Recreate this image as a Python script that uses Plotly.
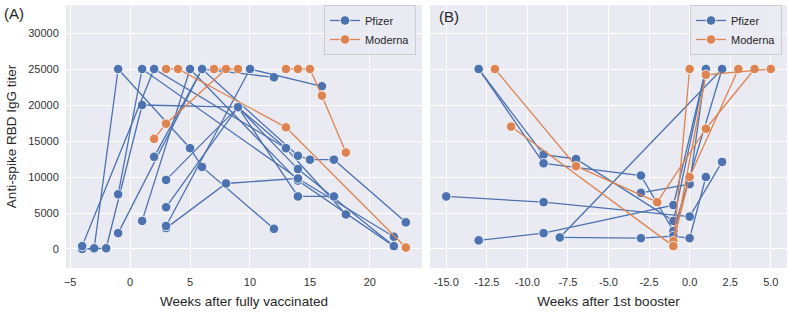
import plotly.graph_objects as go

# ---------------- data (weeks, titer) per subject ----------------
# Panel A: weeks after fully vaccinated
a_pfizer_weeks = [
    [-3, -1, 5, 6, 12],
    [-4, -2, 1, 9, 14, 22],
    [-4, 2, 13, 18],
    [-1, 1, 14, 22],
    [-1, 6, 14, 15, 17, 23],
    [1, 5, 14, 22],
    [3, 9, 14, 17],
    [3, 8, 14],
    [3, 9, 13],
    [2, 6, 12],
    [3, 10, 16],
]
a_pfizer_titer = [
    [100, 25000, 14000, 11400, 2800],
    [0, 100, 20000, 19700, 11100, 400],
    [400, 25000, 14000, 4800],
    [7600, 25000, 9800, 1700],
    [2200, 25000, 12950, 12400, 12400, 3700],
    [3900, 25000, 9500, 400],
    [9600, 19700, 7300, 7300],
    [2900, 9100, 9800],
    [5800, 19700, 14000],
    [12800, 25000, 23850],
    [3200, 25000, 22600],
]
a_moderna_weeks = [
    [2, 3, 8],
    [3, 4, 13, 23],
    [7, 9],
    [13, 14, 15, 16, 18],
]
a_moderna_titer = [
    [15300, 17400, 25000],
    [25000, 25000, 16900, 200],
    [25000, 25000],
    [25000, 25000, 25000, 21300, 13400],
]

# Panel B: weeks after 1st booster
b_pfizer_weeks = [
    [-13, -9, -7, -1, 1],
    [-13, -9, -3, -1, 2],
    [-15, -9, 0, 2],
    [-13, -9, -1, 1],
    [-8, 2],
    [-8, -3, -1, 0, 1],
    [-3, 0, 1],
]
b_pfizer_titer = [
    [25000, 13100, 12500, 3900, 25000],
    [25000, 11900, 10200, 2500, 25000],
    [7300, 6500, 4500, 12100],
    [1200, 2200, 6100, 25000],
    [1600, 25000],
    [1600, 1500, 1800, 1500, 10000],
    [7800, 9000, 25000],
]
b_moderna_weeks = [
    [-12, -7, -2, 1, 4],
    [-11, -1, 0],
    [-1, 0, 3],
    [-1, 1, 5],
]
b_moderna_titer = [
    [25000, 11500, 6500, 16700, 25000],
    [17000, 400, 25000],
    [1100, 10000, 25000],
    [400, 24200, 25000],
]

vaccines = ["Pfizer", "Moderna"]
colors = {"Pfizer": "#4C72B0", "Moderna": "#DD8452"}
y_ticks = [0, 5000, 10000, 15000, 20000, 25000, 30000]
y_labels = [str(v) for v in y_ticks]
a_ticks = [-5, 0, 5, 10, 15, 20]
b_ticks = [-15.0, -12.5, -10.0, -7.5, -5.0, -2.5, 0.0, 2.5, 5.0]

fig = go.Figure()


def add_panel(weeks_by_vac, titer_by_vac, xaxis, yaxis, legend):
    for vac in vaccines:
        for i, (wk, ti) in enumerate(zip(weeks_by_vac[vac], titer_by_vac[vac])):
            fig.add_trace(go.Scatter(
                x=wk, y=ti, mode="lines+markers", name=vac,
                legendgroup=legend + vac, showlegend=(i == 0), legend=legend,
                xaxis=xaxis, yaxis=yaxis,
                line=dict(color=colors[vac], width=1.3),
                marker=dict(color=colors[vac], size=9.5, line=dict(color="white", width=0.8)),
                hoverinfo="skip",
            ))


add_panel({"Pfizer": a_pfizer_weeks, "Moderna": a_moderna_weeks},
          {"Pfizer": a_pfizer_titer, "Moderna": a_moderna_titer}, "x", "y", "legend")
add_panel({"Pfizer": b_pfizer_weeks, "Moderna": b_moderna_weeks},
          {"Pfizer": b_pfizer_titer, "Moderna": b_moderna_titer}, "x2", "y2", "legend2")

W, H = 789, 318
ydom = [50 / H, 313 / H]
axis_common = dict(showgrid=True, gridcolor="white", gridwidth=1, zeroline=False,
                   showline=False, automargin=False,
                   tickfont=dict(family="Liberation Sans, Arial", size=11, color="#333333"),
                   ticks="outside", ticklen=4, tickcolor="rgba(0,0,0,0)")
fig.update_layout(
    width=W, height=H,
    margin=dict(l=0, r=0, t=0, b=0, autoexpand=False),
    paper_bgcolor="white", plot_bgcolor="#EAEAF2",
    font=dict(family="Liberation Sans, Arial", color="#262626"),
    xaxis=dict(domain=[66 / W, 422 / W], range=[-5.35, 24.35], tickvals=a_ticks,
               title=dict(text="Weeks after fully vaccinated", font=dict(size=13.5), standoff=9),
               anchor="y", **axis_common),
    yaxis=dict(domain=ydom, range=[-2640, 33890], tickvals=y_ticks, ticktext=y_labels,
               title=dict(text="Anti-spike RBD IgG titer", font=dict(size=13.5), standoff=8),
               anchor="x", **axis_common),
    xaxis2=dict(domain=[430 / W, 787 / W], range=[-16, 6], tickvals=b_ticks,
                ticktext=[f"{v:.1f}" for v in b_ticks],
                title=dict(text="Weeks after 1st booster", font=dict(size=13.5), standoff=9),
                anchor="y2", **axis_common),
    yaxis2=dict(domain=ydom, range=[-2640, 33890], tickvals=y_ticks, showticklabels=False,
                anchor="x2", matches="y", **axis_common),
    legend=dict(x=416 / W, y=313 / H, xanchor="right", yanchor="top",
                bgcolor="rgba(234,234,242,0.85)", bordercolor="#CCCCCC", borderwidth=1,
                font=dict(size=11, color="#262626"), tracegroupgap=0, itemwidth=30),
    legend2=dict(x=782 / W, y=313 / H, xanchor="right", yanchor="top",
                 bgcolor="rgba(234,234,242,0.85)", bordercolor="#CCCCCC", borderwidth=1,
                 font=dict(size=11, color="#262626"), tracegroupgap=0, itemwidth=30),
    annotations=[
        dict(text="(A)", x=2 / W, y=1 - 3 / H, xref="paper", yref="paper",
             xanchor="left", yanchor="top", showarrow=False, font=dict(size=15, color="#262626")),
        dict(text="(B)", x=437 / W, y=1 - 6 / H, xref="paper", yref="paper",
             xanchor="left", yanchor="top", showarrow=False, font=dict(size=15, color="#262626")),
    ],
)

fig.write_html("out.html", config={"displayModeBar": False},
               post_script="document.body.style.margin='0px';")
